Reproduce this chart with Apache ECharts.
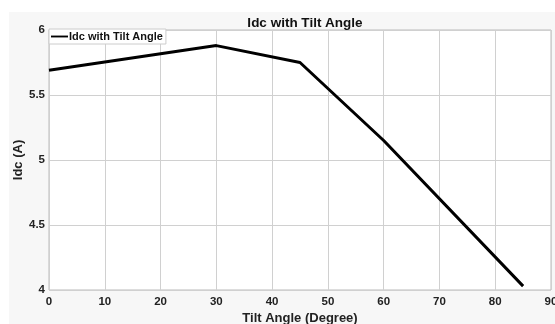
<!DOCTYPE html>
<html><head><meta charset="utf-8">
<script src="https://cdn.jsdelivr.net/npm/echarts@6/dist/echarts.min.js"></script>
<style>html,body{margin:0;padding:0;background:#fff}#c{width:555px;height:324px}</style>
</head><body><div id="c"></div>
<script>
const tiltAngles = [0, 30, 45, 60, 85];
const idcValues = [5.69, 5.88, 5.75, 5.15, 4.03];
const xTicks = [0, 10, 20, 30, 40, 50, 60, 70, 80, 90];
const yTicks = [4, 4.5, 5, 5.5, 6];
const seriesName = 'Idc with Tilt Angle';

const chart = echarts.init(document.getElementById('c'), null, {renderer: 'canvas'});
const font = 'Liberation Sans, Arial, sans-serif';
chart.setOption({
  backgroundColor: '#fff',
  animation: false,
  graphic: [{type: 'rect', z: -10, shape: {x: 9, y: 12, width: 546, height: 312}, style: {fill: '#f7f7f7'}}],
  title: {text: 'Idc with Tilt Angle', left: 300, top: 11, textAlign: 'center',
    textStyle: {fontFamily: font, fontSize: 13.5, fontWeight: 'bold', color: '#111'}},
  legend: {show: true, left: 49, top: 29, orient: 'horizontal', padding: [2, 3, 2, 2],
    backgroundColor: '#fff', borderColor: '#ccc', borderWidth: 1,
    itemWidth: 17, itemHeight: 10, itemGap: 2,
    icon: 'path://M0,4 L20,4 L20,6.2 L0,6.2 Z',
    textStyle: {fontFamily: font, fontSize: 11, fontWeight: 'bold', color: '#111', padding: [0, 0, 0, -4]},
    data: [seriesName]},
  grid: {left: 49, right: 4, top: 30, bottom: 34, containLabel: false, outerBoundsMode: 'none',
    show: true, backgroundColor: '#fff', borderColor: '#bbb', borderWidth: 1},
  xAxis: {type: 'value', min: 0, max: 90, interval: 10,
    name: 'Tilt Angle (Degree)', nameLocation: 'middle', nameGap: 22, nameMoveOverlap: false,
    nameTextStyle: {fontFamily: font, fontSize: 13, fontWeight: 'bold', color: '#222'},
    axisLine: {show: false}, axisTick: {show: false},
    axisLabel: {fontFamily: font, fontSize: 11.5, fontWeight: 'bold', color: '#222', margin: 6,
      formatter: v => xTicks.includes(v) ? String(v) : ''},
    splitLine: {show: true, lineStyle: {color: '#d0d0d0', width: 1}}},
  yAxis: {type: 'value', min: 4, max: 6, interval: 0.5,
    name: 'Idc (A)', nameLocation: 'middle', nameGap: 24, nameRotate: 90, nameMoveOverlap: false,
    nameTextStyle: {fontFamily: font, fontSize: 13, fontWeight: 'bold', color: '#222'},
    axisLabel: {fontFamily: font, fontSize: 11.5, fontWeight: 'bold', color: '#222', margin: 4,
      formatter: v => yTicks.includes(v) ? String(v) : ''},
    axisLine: {show: false}, axisTick: {show: false},
    splitLine: {show: true, lineStyle: {color: '#d0d0d0', width: 1}}},
  series: [{name: seriesName, type: 'line', data: tiltAngles.map((a, i) => [a, idcValues[i]]),
    showSymbol: false, lineStyle: {color: '#000', width: 3}, itemStyle: {color: '#000'}}]
});
</script></body></html>
